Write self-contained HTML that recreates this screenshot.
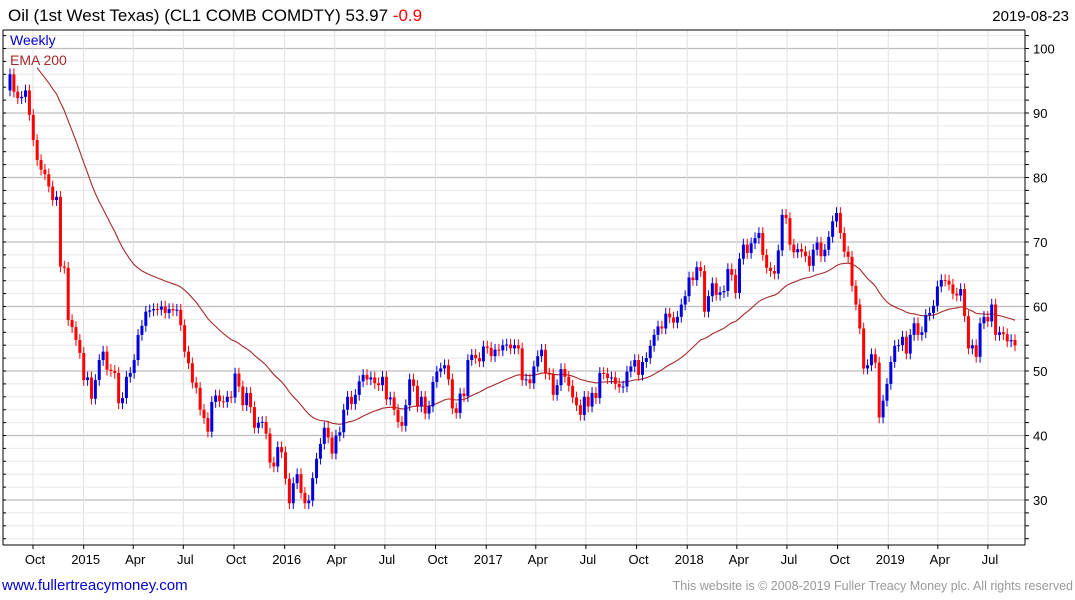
<!DOCTYPE html>
<html><head><meta charset="utf-8"><style>
body{margin:0;background:#fff;width:1075px;height:600px;overflow:hidden;font-family:"Liberation Sans","DejaVu Sans",sans-serif}
svg{display:block}
</style></head><body>
<svg id="chart" width="1075" height="600">
<text x="8" y="21" font-size="17" fill="#000">Oil (1st West Texas) (CL1 COMB COMDTY) 53.97 <tspan fill="#ff0000">-0.9</tspan></text>
<text x="1069" y="21" font-size="15" fill="#000" text-anchor="end">2019-08-23</text>
<g id="grid"></g>
<g id="ema"></g>
<g id="candles"></g>
<g id="axes"></g>
<text x="10" y="45" font-size="14" fill="#0000dd">Weekly</text>
<text x="10" y="65" font-size="14" fill="#a52a2a">EMA 200</text>
<text x="2" y="590" font-size="15" fill="#0000cc">www.fullertreacymoney.com</text>
<text x="1073" y="590" font-size="12.5" fill="#999" text-anchor="end">This website is © 2008-2019 Fuller Treacy Money plc. All rights reserved</text>
</svg>
<script>
const closes = [96,93.3,92.3,92.5,93.5,89.7,85.8,82.7,81.2,80.5,78.6,76.5,77,66.2,66,57.9,56.8,54.8,52.8,48.6,49,45.7,48.6,51.7,53,50.2,50,49.7,45,45.8,49.1,49.7,51.7,55.6,57,59.2,59.4,59.6,59.5,60,59,59.6,59.4,59.5,57.1,53,51.2,48.2,47.4,44,42.7,40.6,45.2,46.2,45.3,45.2,46,45.9,49.6,47.6,44.7,46.6,44.4,41.2,42,42.1,40.3,35.8,35.2,38.2,37.4,33.3,29.5,32.6,34,31.1,29.5,29.9,33.4,36.4,38.7,41.2,39.7,37.2,40,40.5,44,46,44.9,46.3,48.4,49.4,48.7,49,48.1,47.8,49.1,45.6,45.9,44,42.1,41.5,44.7,48.7,47.7,44.5,46,43.4,44.5,48.3,49.9,50.4,50.9,48.7,44.2,43.5,46.5,46.1,51.7,52.5,52,51.5,53.8,53.6,52.3,53.3,53.2,54,54.1,53.5,54,53.5,48.6,48.7,48.1,50.7,52.3,53.3,49.6,49.5,46.3,47.8,50.3,49.1,47.7,45.9,44.7,43.2,46,44.5,46.6,45.8,49.7,49.6,48.9,49,48,47.5,47.6,49.9,50.7,51.7,49.4,51.4,52,53.9,55.6,56.9,56.6,58.9,58.3,57.5,58.4,60.3,61.6,64.5,64.1,66.1,65.5,59.2,61.6,63.6,61.8,62.2,62.4,65.8,64.9,62.1,67.4,69.6,68.3,69.8,70.6,71.4,68,66,65.5,65.1,68.7,74.2,73.7,69.6,68.4,68.9,68.5,67.8,66.3,68.8,69.9,67.8,68.8,70.8,73.2,74.5,71.4,68.5,67.7,63.2,60.3,56.6,50.4,50.9,52.6,51.3,42.8,45.4,48,51.4,53.9,54,55.3,52.7,55.6,57.4,55.6,56,58.7,59,60.1,63.1,64.1,64,63.4,62,61.7,62.7,58.5,53.5,54,52.2,57.4,58.4,57.7,60.3,55.6,56,55.7,54.6,54.8,53.97];
const firstOpen = 93.5;
const emaSeed = 97;
const emaStart = 7;
const yTicks = [30,40,50,60,70,80,90,100];
const xTickLabels = ["Oct","2015","Apr","Jul","Oct","2016","Apr","Jul","Oct","2017","Apr","Jul","Oct","2018","Apr","Jul","Oct","2019","Apr","Jul"];
const xTickDates = ["2014-10-01","2015-01-01","2015-04-01","2015-07-01","2015-10-01","2016-01-01","2016-04-01","2016-07-01","2016-10-01","2017-01-01","2017-04-01","2017-07-01","2017-10-01","2018-01-01","2018-04-01","2018-07-01","2018-10-01","2019-01-01","2019-04-01","2019-07-01"];

const NS="http://www.w3.org/2000/svg";
const L=3,R=1025,T=30,B=545;
function yS(v){return 371-(v-50)*6.45;}
function xI(i){return 10+i*(1005/(closes.length-1));}
function xD(s){const d=(Date.parse(s)-Date.parse("2014-10-01"))/86400000;return 33+d*0.5507;}
function mk(tag,attrs,parent){const e=document.createElementNS(NS,tag);for(const k in attrs)e.setAttribute(k,attrs[k]);parent.appendChild(e);return e;}
const grid=document.getElementById('grid'),axes=document.getElementById('axes'),cg=document.getElementById('candles'),eg=document.getElementById('ema');
// horizontal grid
for(let v=24;v<=102;v+=2){
  const y=yS(v);const major=v%10===0;
  const ln=mk('line',{x1:L,x2:R,y1:y,y2:y,stroke:major?'#bdbdbd':'#e8e8e8','stroke-width':major?1.2:1},grid);
  
  
  mk('line',{x1:R,x2:R+4,y1:y,y2:y,stroke:'#000','stroke-width':1},axes);
  mk('line',{x1:L,x2:L+3,y1:y,y2:y,stroke:'#000','stroke-width':1},axes);
}
yTicks.forEach(v=>{
  const t=mk('text',{x:1033,y:yS(v)+5,'font-size':13,fill:'#000'},axes);t.textContent=v;
  
  
});
xTickDates.forEach((d,k)=>{
  const x=xD(d);
  const ln=mk('line',{x1:x,x2:x,y1:T,y2:B,stroke:'#e0e0e0','stroke-width':1},grid);
  
  
  mk('line',{x1:x,x2:x,y1:B,y2:B+4,stroke:'#000'},axes);
  const t=mk('text',{x:x+2,y:564,'font-size':13,fill:'#000','text-anchor':'middle'},axes);t.textContent=xTickLabels[k];
  
  
});
// frame
mk('line',{x1:L,x2:R,y1:T,y2:T,stroke:'#000'},axes);
mk('line',{x1:L,x2:R,y1:B,y2:B,stroke:'#000'},axes);
mk('line',{x1:R,x2:R,y1:T,y2:B,stroke:'#000'},axes);
mk('line',{x1:L,x2:L,y1:T,y2:B,stroke:'#000'},axes);
// candles
closes.forEach((c,i)=>{
  const o=i===0?firstOpen:closes[i-1];
  const up=c>=o;const col=up?'#0000dd':'#ff0000';
  const hi=Math.max(o,c)+0.9,lo=Math.min(o,c)-0.9;
  const x=xI(i);
  const g=mk('g',{},cg);
  
  
  mk('line',{x1:x,x2:x,y1:yS(hi),y2:yS(lo),stroke:col,'stroke-width':1},g);
  const y1=yS(Math.max(o,c)),y2=yS(Math.min(o,c));
  mk('rect',{x:x-1.5,y:y1,width:3,height:Math.max(1,y2-y1),fill:col},g);
});
// EMA
let e=emaSeed,pts=[];const a=2/41;
for(let i=emaStart;i<closes.length;i++){if(i>emaStart)e=e+a*(closes[i]-e);pts.push(xI(i).toFixed(1)+','+yS(e).toFixed(1));}
const pl=mk('polyline',{points:pts.join(' '),fill:'none',stroke:'#a52a2a','stroke-width':1.1},eg);


</script>
</body></html>
